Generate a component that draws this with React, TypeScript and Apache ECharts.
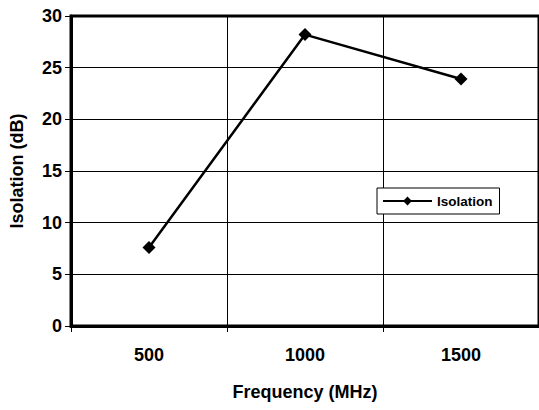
import React, { useEffect, useRef } from "react";
import * as echarts from "echarts";

const categories = ["500", "1000", "1500"];
const isolation = [7.6, 28.2, 23.9];
const seriesName = "Isolation";
const xName = "Frequency (MHz)";
const yName = "Isolation (dB)";

const FONT = "'Liberation Sans Narrow', 'Arial Narrow', 'Liberation Sans', Arial, sans-serif";

export default function App() {
  const ref = useRef<HTMLDivElement>(null);
  useEffect(() => {
    if (!ref.current) return;
    const chart = echarts.init(ref.current, undefined, { renderer: "svg" });
    chart.setOption({
      animation: false,
      backgroundColor: "#fff",
      textStyle: { fontFamily: FONT },
      grid: {
        left: 70,
        top: 16,
        right: -3,
        bottom: 84,
        show: true,
        borderColor: "#000",
        borderWidth: 3,
        containLabel: false,
      },
      legend: {
        left: 377,
        top: 188,
        orient: "vertical",
        data: [seriesName],
        itemWidth: 49,
        itemHeight: 11,
        itemGap: 4,
        padding: [6, 7, 6, 5],
        borderColor: "#000",
        borderWidth: 1,
        backgroundColor: "#fff",
        textStyle: { fontFamily: FONT, fontWeight: "bold", fontSize: 13.5, color: "#000" },
      },
      xAxis: {
        type: "category",
        data: categories,
        boundaryGap: true,
        name: xName,
        nameLocation: "middle",
        nameGap: 57,
        nameTextStyle: { fontFamily: FONT, fontWeight: "bold", fontSize: 18, color: "#000" },
        axisLine: { lineStyle: { color: "#000", width: 3 } },
        axisTick: { show: true, alignWithLabel: false, length: 6, lineStyle: { color: "#000", width: 1 } },
        axisLabel: { margin: 20, fontFamily: FONT, fontWeight: "bold", fontSize: 18, color: "#000" },
        splitLine: { show: true, interval: 0, lineStyle: { color: "#000", width: 1 } },
      },
      yAxis: {
        type: "value",
        min: 0,
        max: 30,
        interval: 5,
        name: yName,
        nameLocation: "middle",
        nameGap: 45,
        nameTextStyle: { fontFamily: FONT, fontWeight: "bold", fontSize: 18, color: "#000" },
        axisLine: { show: true, lineStyle: { color: "#000", width: 3 } },
        axisTick: { show: true, length: 6, lineStyle: { color: "#000", width: 1 } },
        axisLabel: { margin: 9, fontFamily: FONT, fontWeight: "bold", fontSize: 18, color: "#000" },
        splitLine: { show: true, lineStyle: { color: "#000", width: 1 } },
      },
      series: [
        {
          name: seriesName,
          type: "line",
          data: isolation,
          symbol: "diamond",
          symbolSize: 13,
          itemStyle: { color: "#000" },
          lineStyle: { color: "#000", width: 2.5 },
        },
      ],
    });
    return () => chart.dispose();
  }, []);
  return (
    <div
      ref={ref}
      style={{ position: "fixed", left: 0, top: 0, width: 539, height: 410, background: "#fff" }}
    />
  );
}
